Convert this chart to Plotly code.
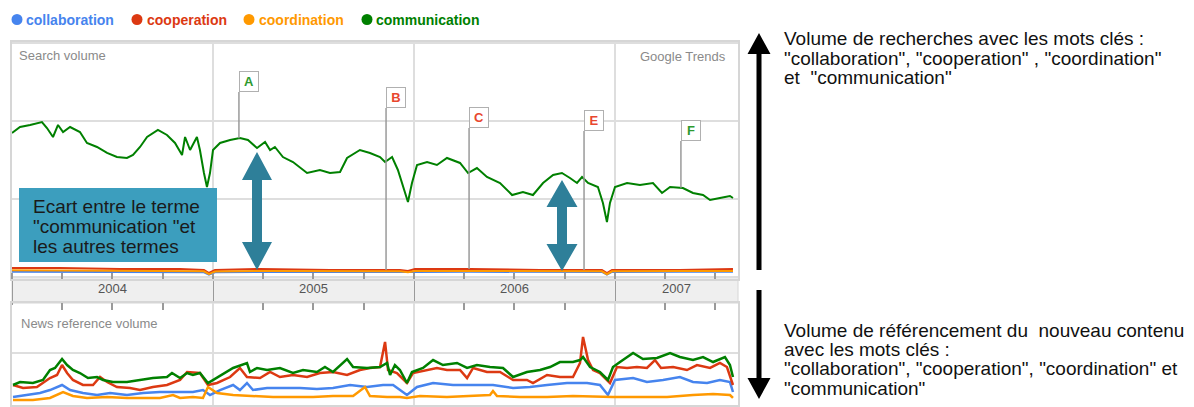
import numpy as np
import pandas as pd
import plotly.graph_objects as go

# ---------------- data (x = decimal year, y = relative volume) ----------------
series_names = ["collaboration", "cooperation", "coordination", "communication"]
series_colors = ["#4684ee", "#dc3912", "#ff9900", "#008000"]

# Search volume panel
comm_search_x = [2004.000, 2004.040, 2004.090, 2004.149, 2004.174, 2004.204, 2004.229, 2004.254, 2004.289,
                 2004.338, 2004.373, 2004.423, 2004.473, 2004.522, 2004.572, 2004.602, 2004.637, 2004.672,
                 2004.726, 2004.771, 2004.811, 2004.846, 2004.861, 2004.886, 2004.920, 2004.935, 2004.955,
                 2004.970, 2004.985, 2005.000, 2005.035, 2005.085, 2005.134, 2005.174, 2005.219, 2005.259,
                 2005.284, 2005.308, 2005.348, 2005.398, 2005.468, 2005.532, 2005.582, 2005.632, 2005.667,
                 2005.731, 2005.781, 2005.831, 2005.856, 2005.891, 2005.920, 2005.955, 2005.970, 2005.990,
                 2006.015, 2006.065, 2006.114, 2006.164, 2006.229, 2006.269, 2006.313, 2006.363, 2006.428,
                 2006.488, 2006.542, 2006.592, 2006.642, 2006.692, 2006.736, 2006.776, 2006.811, 2006.836,
                 2006.866, 2006.915, 2006.940, 2006.960, 2006.975, 2007.000, 2007.060, 2007.124, 2007.189,
                 2007.234, 2007.274, 2007.338, 2007.388, 2007.438, 2007.473, 2007.522, 2007.572, 2007.587]
comm_search_y = [1.846, 1.923, 1.949, 1.987, 1.910, 1.795, 1.949, 1.859, 1.923,
                 1.859, 1.718, 1.667, 1.590, 1.538, 1.526, 1.564, 1.667, 1.795,
                 1.885, 1.821, 1.718, 1.564, 1.795, 1.628, 1.795, 1.628, 1.333,
                 1.154, 1.333, 1.628, 1.718, 1.756, 1.782, 1.756, 1.654, 1.731,
                 1.628, 1.667, 1.538, 1.474, 1.333, 1.372, 1.333, 1.346, 1.526,
                 1.628, 1.590, 1.538, 1.474, 1.538, 1.372, 1.077, 0.962, 1.205,
                 1.436, 1.474, 1.436, 1.526, 1.462, 1.333, 1.397, 1.282, 1.205,
                 1.051, 1.090, 1.051, 1.205, 1.308, 1.333, 1.269, 1.205, 1.282,
                 1.205, 1.154, 0.949, 0.705, 0.949, 1.154, 1.205, 1.179, 1.205,
                 1.077, 1.154, 1.141, 1.077, 1.051, 0.987, 1.013, 1.038, 1.013]

coop_search_x = [2004.000, 2004.239, 2004.537, 2004.836, 2004.955, 2004.980, 2005.010, 2005.234, 2005.582,
                 2005.930, 2005.970, 2006.005, 2006.279, 2006.627, 2006.935, 2006.960, 2006.985, 2007.323, 2007.587]
coop_search_y = [0.115, 0.115, 0.103, 0.103, 0.090, 0.051, 0.090, 0.103, 0.090,
                 0.090, 0.077, 0.103, 0.103, 0.090, 0.090, 0.051, 0.090, 0.090, 0.103]
coord_search_x = coop_search_x
coord_search_y = [0.085, 0.083, 0.080, 0.078, 0.072, 0.035, 0.070, 0.077, 0.075,
                  0.074, 0.060, 0.075, 0.077, 0.074, 0.072, 0.035, 0.072, 0.075, 0.077]
collab_search_x = coop_search_x
collab_search_y = [0.066, 0.066, 0.064, 0.064, 0.060, 0.030, 0.060, 0.064, 0.064,
                   0.064, 0.055, 0.064, 0.066, 0.064, 0.064, 0.030, 0.064, 0.066, 0.066]

# News reference volume panel
comm_news_x = [2004.005, 2004.040, 2004.104, 2004.154, 2004.189, 2004.214, 2004.249, 2004.274, 2004.303,
               2004.338, 2004.378, 2004.423, 2004.453, 2004.502, 2004.572, 2004.637, 2004.701, 2004.771,
               2004.796, 2004.836, 2004.871, 2004.900, 2004.935, 2004.975, 2005.000, 2005.035, 2005.100,
               2005.169, 2005.184, 2005.219, 2005.269, 2005.333, 2005.398, 2005.448, 2005.517, 2005.557,
               2005.597, 2005.667, 2005.697, 2005.766, 2005.831, 2005.866, 2005.881, 2005.905, 2005.930,
               2005.965, 2005.990, 2006.045, 2006.095, 2006.144, 2006.214, 2006.264, 2006.313, 2006.378,
               2006.443, 2006.493, 2006.562, 2006.627, 2006.677, 2006.726, 2006.791, 2006.826, 2006.841,
               2006.876, 2006.925, 2006.965, 2006.990, 2007.025, 2007.090, 2007.139, 2007.209, 2007.274,
               2007.323, 2007.388, 2007.438, 2007.488, 2007.547, 2007.572, 2007.587]
comm_news_y = [0.385, 0.442, 0.423, 0.481, 0.673, 0.712, 0.885, 0.769, 0.673,
               0.615, 0.519, 0.538, 0.481, 0.442, 0.442, 0.481, 0.519, 0.538,
               0.615, 0.519, 0.615, 0.577, 0.615, 0.423, 0.481, 0.577, 0.712,
               0.808, 0.635, 0.712, 0.673, 0.712, 0.615, 0.673, 0.635, 0.731,
               0.635, 0.885, 0.731, 0.712, 0.731, 0.808, 0.577, 0.769, 0.673,
               0.423, 0.635, 0.712, 0.865, 0.769, 0.808, 0.712, 0.769, 0.731,
               0.712, 0.538, 0.635, 0.673, 0.731, 0.827, 0.827, 0.865, 0.923,
               0.731, 0.635, 0.481, 0.731, 0.827, 1.000, 0.885, 0.904, 1.000,
               0.923, 0.865, 0.923, 0.827, 0.923, 0.769, 0.538]

coop_news_x = [2004.005, 2004.055, 2004.124, 2004.189, 2004.224, 2004.249, 2004.274, 2004.303, 2004.353,
               2004.403, 2004.438, 2004.473, 2004.522, 2004.587, 2004.637, 2004.701, 2004.771, 2004.836,
               2004.871, 2004.935, 2004.975, 2005.020, 2005.085, 2005.134, 2005.169, 2005.234, 2005.284,
               2005.333, 2005.398, 2005.468, 2005.532, 2005.597, 2005.667, 2005.731, 2005.781, 2005.831,
               2005.856, 2005.871, 2005.915, 2005.965, 2005.995, 2006.065, 2006.114, 2006.164, 2006.229,
               2006.264, 2006.294, 2006.363, 2006.428, 2006.493, 2006.562, 2006.592, 2006.662, 2006.726,
               2006.791, 2006.826, 2006.841, 2006.866, 2006.891, 2006.925, 2006.975, 2007.010, 2007.060,
               2007.109, 2007.159, 2007.199, 2007.229, 2007.289, 2007.358, 2007.408, 2007.473, 2007.522,
               2007.557, 2007.587]
coop_news_y = [0.385, 0.327, 0.346, 0.519, 0.577, 0.769, 0.615, 0.481, 0.385,
               0.385, 0.538, 0.442, 0.346, 0.327, 0.288, 0.346, 0.385, 0.481,
               0.635, 0.615, 0.385, 0.423, 0.538, 0.712, 0.538, 0.519, 0.635,
               0.538, 0.577, 0.538, 0.615, 0.635, 0.577, 0.673, 0.712, 0.731,
               1.212, 0.673, 0.615, 0.423, 0.615, 0.673, 0.712, 0.673, 0.673,
               0.519, 0.712, 0.635, 0.635, 0.481, 0.481, 0.423, 0.577, 0.538,
               0.538, 0.808, 1.308, 0.865, 0.673, 0.615, 0.423, 0.731, 0.712,
               0.731, 0.712, 0.865, 0.712, 0.731, 0.673, 0.769, 0.712, 0.808,
               0.731, 0.385]

collab_news_x = [2004.005, 2004.075, 2004.139, 2004.189, 2004.249, 2004.289, 2004.353, 2004.423, 2004.488,
                 2004.572, 2004.652, 2004.736, 2004.821, 2004.900, 2004.950, 2004.985, 2005.035, 2005.100,
                 2005.134, 2005.169, 2005.199, 2005.269, 2005.348, 2005.433, 2005.517, 2005.597, 2005.682,
                 2005.766, 2005.846, 2005.896, 2005.965, 2006.015, 2006.095, 2006.194, 2006.294, 2006.393,
                 2006.493, 2006.577, 2006.662, 2006.761, 2006.861, 2006.925, 2006.965, 2007.000, 2007.090,
                 2007.159, 2007.239, 2007.323, 2007.388, 2007.458, 2007.522, 2007.572, 2007.587]
collab_news_y = [0.154, 0.192, 0.231, 0.288, 0.385, 0.288, 0.231, 0.192, 0.231,
                 0.192, 0.231, 0.250, 0.250, 0.250, 0.288, 0.192, 0.288, 0.385,
                 0.288, 0.423, 0.288, 0.327, 0.327, 0.327, 0.308, 0.327, 0.385,
                 0.346, 0.385, 0.385, 0.192, 0.346, 0.423, 0.385, 0.385, 0.385,
                 0.327, 0.346, 0.385, 0.423, 0.423, 0.385, 0.192, 0.481, 0.519,
                 0.442, 0.481, 0.538, 0.442, 0.423, 0.481, 0.442, 0.250]

coord_news_x = [2004.005, 2004.104, 2004.189, 2004.254, 2004.303, 2004.373, 2004.473, 2004.572, 2004.652,
                2004.736, 2004.801, 2004.836, 2004.900, 2004.950, 2004.975, 2005.020, 2005.100, 2005.199,
                2005.299, 2005.398, 2005.498, 2005.597, 2005.697, 2005.756, 2005.781, 2005.866, 2005.930,
                2005.965, 2006.030, 2006.164, 2006.294, 2006.378, 2006.393, 2006.413, 2006.527, 2006.662,
                2006.791, 2006.925, 2006.990, 2007.124, 2007.259, 2007.388, 2007.488, 2007.572, 2007.587]
coord_news_y = [0.096, 0.096, 0.135, 0.250, 0.173, 0.135, 0.154, 0.135, 0.135,
                0.135, 0.192, 0.135, 0.154, 0.135, 0.346, 0.231, 0.192, 0.173,
                0.154, 0.154, 0.154, 0.173, 0.173, 0.346, 0.173, 0.154, 0.154,
                0.135, 0.173, 0.154, 0.173, 0.192, 0.269, 0.173, 0.154, 0.154,
                0.173, 0.154, 0.154, 0.154, 0.154, 0.192, 0.212, 0.192, 0.135]

# Year labels and event flags
year_labels = ["2004", "2005", "2006", "2007"]
year_label_pos = [2004.5, 2005.5, 2006.5, 2007.306]
x_start, x_end = 2004.0, 2007.612

flag_letters = ["A", "B", "C", "E", "F"]
flag_x = [2005.129, 2005.861, 2006.274, 2006.846, 2007.328]
flag_series = ["communication", "cooperation", "cooperation", "cooperation", "communication"]
flag_box_y = [2.372, 2.167, 1.910, 1.872, 1.744]
flag_colors = ["#2e9a2e", "#e8472e", "#e8472e", "#e8472e", "#2e9a2e"]


def to_dates(years):
    base = pd.Timestamp("2004-01-01")
    return [base + pd.Timedelta(days=(y - 2004.0) * 365.25) for y in years]


search_data = {
    "collaboration": (collab_search_x, collab_search_y),
    "cooperation": (coop_search_x, coop_search_y),
    "coordination": (coord_search_x, coord_search_y),
    "communication": (comm_search_x, comm_search_y),
}
news_data = {
    "collaboration": (collab_news_x, collab_news_y),
    "cooperation": (coop_news_x, coop_news_y),
    "coordination": (coord_news_x, coord_news_y),
    "communication": (comm_news_x, comm_news_y),
}

# ---------------- layout geometry (page pixels -> paper) ----------------
# the page body has an 8px default margin, so the figure starts at (8, 8)
OFF = 8
W, H = 1194 - OFF, 407 - OFF
PLOT_L, PLOT_R, PLOT_T, PLOT_B = 12, 738, 42, 405      # plot area in page pixels
ML, MT = PLOT_L - OFF, PLOT_T - OFF
MR = W - (PLOT_R - OFF)
MB = H - (PLOT_B - OFF)
PW, PH = PLOT_R - PLOT_L, PLOT_B - PLOT_T


def PX(x):
    return (x - PLOT_L) / PW


def PY(y):
    return (PLOT_B - y) / PH


def path(points):
    return "M " + " L ".join(f"{PX(x):.5f},{PY(y):.5f}" for x, y in points) + " Z"


def double_arrow(cx, ty, by, hw, hh, sw):
    pts = [(cx, ty), (cx + hw, ty + hh), (cx + sw, ty + hh), (cx + sw, by - hh), (cx + hw, by - hh),
           (cx, by), (cx - hw, by - hh), (cx - sw, by - hh), (cx - sw, ty + hh), (cx - hw, ty + hh)]
    return path(pts)


def up_arrow(cx, ty, by, hw, hh, sw):
    pts = [(cx, ty), (cx + hw, ty + hh), (cx + sw, ty + hh), (cx + sw, by), (cx - sw, by),
           (cx - sw, ty + hh), (cx - hw, ty + hh)]
    return path(pts)


def down_arrow(cx, ty, by, hw, hh, sw):
    pts = [(cx - sw, ty), (cx + sw, ty), (cx + sw, by - hh), (cx + hw, by - hh), (cx, by),
           (cx - hw, by - hh), (cx - sw, by - hh)]
    return path(pts)


fig = go.Figure()

for name, color in zip(series_names, series_colors):
    xs, ys = search_data[name]
    fig.add_trace(go.Scatter(x=to_dates(xs), y=ys, mode="lines", name=name,
                             line=dict(color=color, width=2), xaxis="x", yaxis="y",
                             showlegend=False))
for name, color in zip(series_names, series_colors):
    xs, ys = news_data[name]
    fig.add_trace(go.Scatter(x=to_dates(xs), y=ys, mode="lines", name=name,
                             line=dict(color=color, width=2.5), xaxis="x2", yaxis="y2",
                             showlegend=False))
# carrier for the year-label axis (no visible mark)
fig.add_trace(go.Scatter(x=to_dates([x_start]), y=[None], mode="lines", xaxis="x3", yaxis="y",
                         showlegend=False, hoverinfo="skip"))

grid = "#dedede"
frame = "#d6d6d6"
tickc = "#9a9a9a"
xr = to_dates([x_start, x_end])

fig.update_layout(
    width=W, height=H,
    margin=dict(l=ML, r=MR, t=MT, b=MB, autoexpand=False),
    paper_bgcolor="white", plot_bgcolor="white",
    font=dict(family="Liberation Sans, Arial, sans-serif"),
    xaxis=dict(anchor="y", type="date", range=xr, dtick="M12", tick0="2004-01-01",
               showgrid=True, gridcolor=grid, gridwidth=2, showticklabels=False,
               ticks="outside", ticklen=24, tickcolor=tickc, tickwidth=1,
               minor=dict(dtick="M3", tick0="2004-01-01", ticks="inside", ticklen=6,
                          tickcolor=tickc, tickwidth=1.5, showgrid=False),
               showline=True, mirror=True, linecolor=frame, linewidth=2, zeroline=False),
    xaxis2=dict(anchor="y2", type="date", range=xr, dtick="M12", tick0="2004-01-01",
                side="top", showgrid=True, gridcolor=grid, gridwidth=2, showticklabels=False,
                ticks="", minor=dict(dtick="M3", tick0="2004-01-01", ticks="inside", ticklen=7,
                                     tickcolor=tickc, tickwidth=1.5, showgrid=False),
                showline=True, mirror=True, linecolor=frame, linewidth=2, zeroline=False),
    xaxis3=dict(overlaying="x", anchor="y", type="date", range=xr, side="bottom",
                tickmode="array", tickvals=to_dates(year_label_pos), ticktext=year_labels,
                ticks="", showgrid=False, showline=False, zeroline=False,
                tickfont=dict(size=13, color="#555555")),
    yaxis=dict(domain=[PY(279), 1], range=[-0.026, 3.013], dtick=1, tick0=0,
               showgrid=True, gridcolor=grid, gridwidth=2, showticklabels=False,
               zeroline=False, showline=True, mirror=True, linecolor=frame, linewidth=2),
    yaxis2=dict(domain=[0, PY(303)], range=[0, 1.962], dtick=1, tick0=0,
                showgrid=True, gridcolor=grid, gridwidth=2, showticklabels=False,
                zeroline=False, showline=True, mirror=True, linecolor=frame, linewidth=2),
)

shapes = []
annotations = []

# middle band holding the year labels
shapes.append(dict(type="rect", xref="paper", yref="paper", x0=0, x1=1, y0=PY(303), y1=PY(279),
                   fillcolor="#efefef", line=dict(color=frame, width=1), layer="below"))

# event flags
for letter, fx, ser, by, col in zip(flag_letters, flag_x, flag_series, flag_box_y, flag_colors):
    sx, sy = search_data[ser]
    attach = float(np.interp(fx, sx, sy))
    d = to_dates([fx])[0]
    shapes.append(dict(type="line", xref="x", yref="y", x0=d, x1=d, y0=attach, y1=by,
                       line=dict(color="#9a9a9a", width=1.5)))
    annotations.append(dict(x=d, y=by, xref="x", yref="y", xanchor="left", yanchor="bottom",
                            text=f"<b>{letter}</b>", showarrow=False, width=18, height=19,
                            bgcolor="white", bordercolor="#b0b0b0", borderwidth=1, borderpad=0,
                            font=dict(size=13, color=col)))

# callout box
shapes.append(dict(type="rect", xref="paper", yref="paper", x0=PX(19), x1=PX(217), y0=PY(262), y1=PY(188),
                   fillcolor="#3c9ebe", line=dict(width=0)))
for txt, yy in zip(["Ecart entre le terme", "\"communication \"et", "les autres termes"], [206, 226, 246]):
    annotations.append(dict(x=PX(31), y=PY(yy), xref="paper", yref="paper", xanchor="left",
                            yanchor="middle", text=txt, showarrow=False,
                            font=dict(size=19, color="#1a1a1a")))

# teal double arrows
teal = "#2e7f99"
shapes.append(dict(type="path", xref="paper", yref="paper", path=double_arrow(257, 152, 270, 15, 28, 5),
                   fillcolor=teal, line=dict(width=0)))
shapes.append(dict(type="path", xref="paper", yref="paper", path=double_arrow(562, 180, 271, 15.5, 27, 5),
                   fillcolor=teal, line=dict(width=0)))

# black arrows on the right
shapes.append(dict(type="path", xref="paper", yref="paper", path=up_arrow(759, 33, 270, 11.5, 21, 2.5),
                   fillcolor="black", line=dict(width=0)))
shapes.append(dict(type="path", xref="paper", yref="paper", path=down_arrow(759, 290, 399, 11.5, 21, 2.5),
                   fillcolor="black", line=dict(width=0)))

# panel labels
annotations.append(dict(x=PX(17), y=PY(56), xref="paper", yref="paper", xanchor="left", yanchor="middle",
                        text="Search volume", showarrow=False, font=dict(size=13, color="#8a8a8a")))
annotations.append(dict(x=PX(728), y=PY(57), xref="paper", yref="paper", xanchor="right", yanchor="middle",
                        text="Google Trends", showarrow=False, font=dict(size=13, color="#8a8a8a")))
annotations.append(dict(x=PX(19), y=PY(323), xref="paper", yref="paper", xanchor="left", yanchor="middle",
                        text="News reference volume", showarrow=False, font=dict(size=13, color="#8a8a8a")))

# legend row: coloured dot + coloured label
legend_dot_x = [17, 137, 249, 367]
legend_text_x = [24, 145, 257, 374]
for name, color, dx, tx in zip(series_names, series_colors, legend_dot_x, legend_text_x):
    shapes.append(dict(type="circle", xref="paper", yref="paper",
                       x0=PX(dx - 5.5), x1=PX(dx + 5.5), y0=PY(25), y1=PY(14),
                       fillcolor=color, line=dict(width=0)))
    annotations.append(dict(x=PX(tx), y=PY(20), xref="paper", yref="paper", xanchor="left", yanchor="middle",
                            text=f"<b>{name}</b>", showarrow=False,
                            font=dict(size=14, color=color, family="Liberation Sans, Arial, sans-serif")))

# right-hand explanations
right_top = ["Volume de recherches avec les mots clés :",
             "\"collaboration\", \"cooperation\" , \"coordination\"",
             "et  \"communication\""]
right_bottom = ["Volume de référencement du  nouveau contenu",
                "avec les mots clés :",
                "\"collaboration\", \"cooperation\", \"coordination\" et",
                "\"communication\""]
for txt, yy in zip(right_top, [38, 58, 77]):
    annotations.append(dict(x=PX(782), y=PY(yy), xref="paper", yref="paper", xanchor="left", yanchor="middle",
                            text=txt, showarrow=False, font=dict(size=19, color="#111111")))
for txt, yy in zip(right_bottom, [330, 349, 368, 388]):
    annotations.append(dict(x=PX(782), y=PY(yy), xref="paper", yref="paper", xanchor="left", yanchor="middle",
                            text=txt, showarrow=False, font=dict(size=19, color="#111111")))

fig.update_layout(shapes=shapes, annotations=annotations)
fig.write_html("out.html")
